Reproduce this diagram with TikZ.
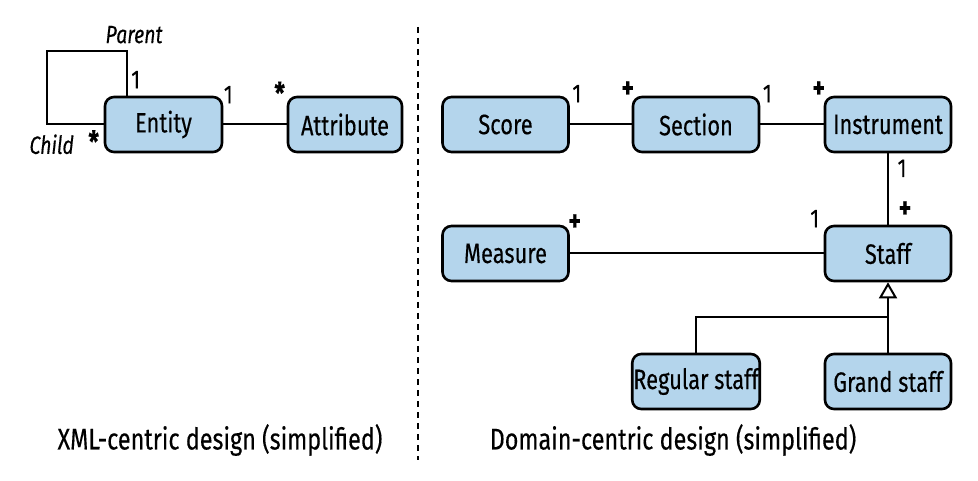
\documentclass[tikz,border=0pt]{standalone}
\usepackage{fontspec}
\setmainfont{Fira Sans}[FakeStretch=0.78, FakeBold=0.3]
\usetikzlibrary{positioning, arrows.meta}
\definecolor{boxblue}{RGB}{180,213,236}

\begin{document}
\begin{tikzpicture}[x=1pt, y=-1pt, on grid, line width=2pt,
    class/.style={draw, line width=2.6pt, rounded corners=9pt, fill=boxblue,
        minimum width=126pt, minimum height=55pt, inner sep=1pt,
        font=\fontsize{28}{32}\selectfont},
    mult/.style={inner sep=0pt, font=\fontsize{26}{30}\selectfont},
    sign/.style={inner sep=0pt, font=\fontsize{30}{34}\selectfont\bfseries},
    role/.style={inner sep=0pt, font=\fontsize{25}{30}\selectfont\itshape},
    caption/.style={inner sep=0pt, font=\fontsize{30}{36}\selectfont}]
    \useasboundingbox (0,0) rectangle (978,481);

    % XML-centric side
    \node[class, minimum width=117pt] (Entity) at (163.5,124.5) {Entity};
    \node[class, minimum width=114pt] (Attribute) [right=181.5pt of Entity] {Attribute};

    \draw (Entity) -- (Attribute);
    \draw ([xshift=-36.5pt]Entity.north) -- ++(0,-45) coordinate (corner)
        -| ([xshift=-57pt]Entity.west) -- (Entity.west);

    \node[mult] (e1) at ([shift={(5,-1)}]Entity.north east) {1};
    \node[sign] (a1) at ([shift={(-7,-3)}]Attribute.north west) {*};
    \node[mult] (p1) at ([shift={(32,-16)}]Entity.north west) {1};
    \node[sign] (c1) at ([shift={(-10,-12)}]Entity.south west) {*};
    \node[role] (parent) at ([shift={(7,-16)}]corner) {Parent};
    \node[role] (child) at ([shift={(-52,-9)}]Entity.south west) {Child};

    % separator
    \draw[line width=2.4pt, dash pattern=on 6pt off 5pt] (418,27) -- (418,460);

    % Domain-centric side
    \node[class] (Score) at (505.5,124.5) {Score};
    \node[class] (Section) [right=190.5pt of Score] {Section};
    \node[class] (Instrument) [right=192pt of Section] {Instrument};
    \node[class] (Staff) [below=129pt of Instrument] {Staff};
    \node[class] (Measure) [left=382.5pt of Staff] {Measure};
    \node[class] (Grand) [below=128pt of Staff] {Grand staff};
    \node[class] (Regular) [left=192pt of Grand] {Regular staff};

    \draw (Score) -- (Section);
    \draw (Section) -- (Instrument);
    \draw (Instrument) -- (Staff);
    \draw (Measure) -- (Staff);
    \draw[-{Triangle[open, length=16pt, width=18pt]}] (Grand) -- (Staff);
    \path (Grand.north) ++(0,-36) coordinate (branch);
    \draw (Regular.north) |- (branch);

    \node[mult] (s1) at ([shift={(7,-2)}]Score.north east) {1};
    \node[sign] (x1) at ([shift={(-4,-6)}]Section.north west) {+};
    \node[mult] (s2) at ([shift={(7,-2)}]Section.north east) {1};
    \node[sign] (i1) at ([shift={(-5,-6)}]Instrument.north west) {+};
    \node[mult] (i2) at ([shift={(14,15)}]Instrument.south) {1};
    \node[sign] (t1) at ([shift={(17,-15)}]Staff.north) {+};
    \node[sign] (m1) at ([shift={(5,-2)}]Measure.north east) {+};
    \node[mult] (t2) at ([shift={(-9,-6)}]Staff.north west) {1};

    % captions
    \node[caption] (xmlcap) at (220,440) {XML-centric design (simplified)};
    \node[caption] (domcap) at (673,440) {Domain-centric design (simplified)};
\end{tikzpicture}
\end{document}
